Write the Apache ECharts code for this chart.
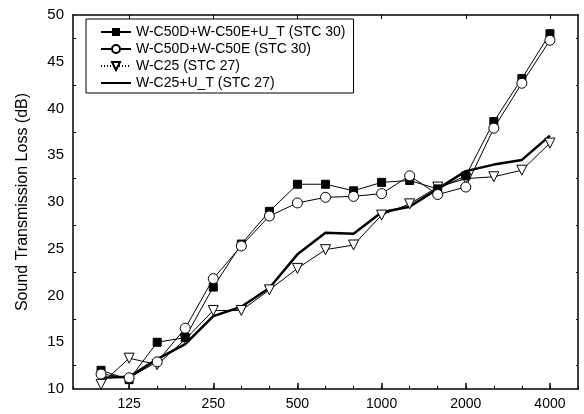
<!DOCTYPE html>
<html>
<head>
<meta charset="utf-8">
<style>
  html, body { margin: 0; padding: 0; background: #fff; }
  #chart { width: 584px; height: 414px; }
</style>
<script src="https://cdn.jsdelivr.net/npm/echarts@6/dist/echarts.min.js"></script>
</head>
<body>
<div id="chart"></div>
<script>
// 1/3 octave bands, with one empty band at each end for padding
const bands = ["80", "100", "125", "160", "200", "250", "315", "400", "500", "630",
  "800", "1000", "1250", "1600", "2000", "2500", "3150", "4000", "5000"];
const freqs = ["100", "125", "160", "200", "250", "315", "400", "500", "630",
  "800", "1000", "1250", "1600", "2000", "2500", "3150", "4000"];
const labelled = ["125", "250", "500", "1000", "2000", "4000"];

const wc50dEUT = [12.0, 11.0, 15.0, 15.5, 20.9, 25.5, 29.0, 31.9, 31.9, 31.2, 32.1, 32.3, 31.4, 32.8, 38.6, 43.2, 48.0];
const wc50dE   = [11.6, 11.2, 12.9, 16.5, 21.8, 25.3, 28.5, 29.9, 30.5, 30.6, 30.9, 32.8, 30.8, 31.6, 37.9, 42.7, 47.3];
const wc25     = [10.5, 13.3, 12.6, 15.3, 18.4, 18.4, 20.6, 22.9, 24.9, 25.4, 28.6, 29.8, 31.6, 32.5, 32.7, 33.4, 36.3];
const wc25UT   = [11.2, 11.3, 13.2, 14.8, 17.8, 18.8, 20.8, 24.4, 26.7, 26.6, 28.9, 29.5, 31.4, 33.3, 34.0, 34.5, 37.1];

const names = [
  "W-C50D+W-C50E+U_T (STC 30)",
  "W-C50D+W-C50E (STC 30)",
  "W-C25 (STC 27)",
  "W-C25+U_T (STC 27)",
];

const pairs = (vals) => freqs.map((f, i) => [f, vals[i]]);
const font = "Liberation Sans, Arial, sans-serif";
const isLabelled = (i, v) => labelled.includes(v);

const chart = echarts.init(document.getElementById("chart"), null, { renderer: "canvas" });

const option = {
  animation: false,
  textStyle: { fontFamily: font, color: "#000" },
  grid: { left: 73, right: 6, top: 15, bottom: 25 },
  legend: {
    orient: "vertical",
    left: 86,
    top: 19,
    padding: [6, 8, 3, 14],
    itemGap: 3,
    itemWidth: 30,
    itemHeight: 10,
    borderColor: "#000",
    borderWidth: 1,
    textStyle: { fontFamily: font, fontSize: 14, color: "#000" },
    data: [
      names[0],
      names[1],
      { name: names[2], lineStyle: { type: [1, 2] } },
      { name: names[3], itemStyle: { color: "rgba(0,0,0,0)", borderColor: "rgba(0,0,0,0)", opacity: 0 } },
    ],
  },
  xAxis: [
    {
      type: "category",
      data: bands,
      boundaryGap: false,
      position: "bottom",
      axisLine: { lineStyle: { color: "#000", width: 1.5 } },
      axisTick: { inside: true, length: 6, lineStyle: { color: "#000", width: 1.5 }, interval: isLabelled },
      axisLabel: { color: "#000", fontSize: 14, margin: 8, interval: isLabelled },
      splitLine: { show: false },
    },
    {
      type: "category",
      data: bands,
      boundaryGap: false,
      position: "bottom",
      axisLine: { show: false },
      axisTick: { inside: true, length: 3, interval: 0, lineStyle: { color: "#000" } },
      axisLabel: { show: false },
      splitLine: { show: false },
    },
    {
      type: "category",
      data: bands,
      boundaryGap: false,
      position: "top",
      axisLine: { lineStyle: { color: "#000", width: 1.5 } },
      axisTick: { inside: true, length: 4, lineStyle: { color: "#000" }, interval: isLabelled },
      axisLabel: { show: false },
      splitLine: { show: false },
    },
  ],
  yAxis: [
    {
      type: "value",
      min: 10,
      max: 50,
      interval: 5,
      position: "left",
      name: "Sound Transmission Loss (dB)",
      nameLocation: "middle",
      nameGap: 42,
      nameTextStyle: { fontFamily: font, fontSize: 16, color: "#000" },
      axisLine: { show: true, lineStyle: { color: "#000", width: 1.5 } },
      axisTick: { inside: true, length: 5, lineStyle: { color: "#000" } },
      minorTick: { show: true, splitNumber: 2, length: 3, lineStyle: { color: "#000" } },
      axisLabel: { color: "#000", fontSize: 15, margin: 9 },
      splitLine: { show: false },
    },
    {
      type: "value",
      min: 10,
      max: 50,
      interval: 5,
      position: "right",
      axisLine: { show: true, lineStyle: { color: "#000", width: 1.5 } },
      axisTick: { inside: true, length: 4, lineStyle: { color: "#000" } },
      minorTick: { show: true, splitNumber: 2, length: 2, lineStyle: { color: "#000" } },
      axisLabel: { show: false },
      splitLine: { show: false },
    },
  ],
  series: [
    {
      name: names[0],
      type: "line",
      data: pairs(wc50dEUT),
      symbol: "rect",
      symbolSize: 8,
      itemStyle: { color: "#000", borderColor: "#000" },
      lineStyle: { color: "#000", width: 1 },
      z: 4,
    },
    {
      name: names[1],
      type: "line",
      data: pairs(wc50dE),
      symbol: "circle",
      symbolSize: 10,
      itemStyle: { color: "#fff", borderColor: "#000", borderWidth: 1 },
      lineStyle: { color: "#000", width: 1 },
      z: 5,
    },
    {
      name: names[2],
      type: "line",
      data: pairs(wc25),
      symbol: "triangle",
      symbolRotate: 180,
      symbolSize: 10,
      itemStyle: { color: "#fff", borderColor: "#000", borderWidth: 1 },
      lineStyle: { color: "#000", width: 1 },
      z: 3,
    },
    {
      name: names[3],
      type: "line",
      data: pairs(wc25UT),
      symbol: "none",
      itemStyle: { color: "#000" },
      lineStyle: { color: "#000", width: 2.5 },
      z: 2,
    },
  ],
};

chart.setOption(option);
</script>
</body>
</html>
